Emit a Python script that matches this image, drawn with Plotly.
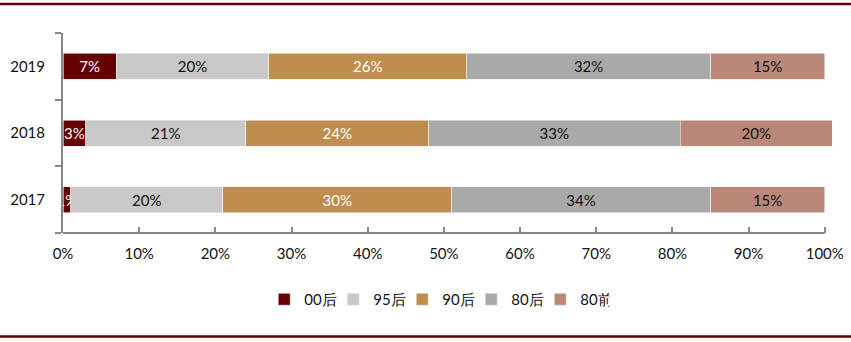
import plotly.graph_objects as go

# Share of each age cohort per year (percent)
years = ["2017", "2018", "2019"]
series_names = ["00后", "95后", "90后", "80后", "80前"]
share_00 = [1, 3, 7]
share_95 = [20, 21, 20]
share_90 = [30, 24, 26]
share_80 = [34, 33, 32]
share_pre80 = [15, 20, 15]
x_ticks = [0, 10, 20, 30, 40, 50, 60, 70, 80, 90, 100]

series_values = [share_00, share_95, share_90, share_80, share_pre80]
colors = ["#650000", "#C8C8C8", "#BF8E4E", "#A9A9A9", "#B98877"]
text_colors = ["#FFFFFF", "#111111", "#FFFFFF", "#111111", "#111111"]

FONT = "Lato, 'Liberation Sans', sans-serif"

fig = go.Figure()
for name, vals, col, tcol in zip(series_names, series_values, colors, text_colors):
    fig.add_trace(go.Bar(
        y=years,
        x=[v / 100 for v in vals],
        name=name,
        orientation="h",
        marker=dict(color=col, line=dict(color="#F2F2F2", width=0.6)),
        text=[f"{v}%" for v in vals],
        textposition="inside",
        insidetextanchor="middle",
        textangle=0,
        textfont=dict(color=tcol, size=15, family=FONT),
        hoverinfo="skip",
    ))

XMAX = 1.0095
fig.update_layout(
    barmode="stack",
    bargap=0.61,
    width=851,
    height=342,
    margin=dict(l=63, r=851 - 63 - 762 * XMAX, t=33, b=109, autoexpand=False),
    paper_bgcolor="white",
    plot_bgcolor="white",
    font=dict(family=FONT, size=15, color="#111111"),
    uniformtext=dict(minsize=15, mode="show"),
    showlegend=True,
    legend=dict(
        orientation="h",
        x=0.486, xanchor="center",
        y=-0.25, yanchor="top",
        font=dict(size=15, family=FONT),
        traceorder="normal",
        itemwidth=30,
        entrywidth=24,
        entrywidthmode="pixels",
    ),
    xaxis=dict(
        range=[0, XMAX],
        tickvals=[t / 100 for t in x_ticks],
        ticktext=[f"{t}%" for t in x_ticks],
        ticks="inside",
        ticklen=6,
        tickcolor="#878787",
        tickwidth=1.5,
        ticklabelstandoff=10,
        showline=False,
        showgrid=False,
        zeroline=False,
        automargin=False,
        tickfont=dict(size=15),
    ),
    yaxis=dict(
        type="category",
        categoryorder="array",
        categoryarray=years,
        range=[-0.5, 2.5],
        tickson="boundaries",
        ticks="outside",
        ticklen=6,
        tickcolor="#878787",
        tickwidth=1.5,
        ticklabelstandoff=13,
        showline=True,
        linecolor="#878787",
        linewidth=2,
        showgrid=False,
        zeroline=False,
        automargin=False,
        tickfont=dict(size=15),
    ),
    shapes=[
        # horizontal axis line spanning 0%–100%
        dict(type="line", xref="x", yref="paper", x0=0, x1=1, y0=0, y1=0,
             line=dict(color="#878787", width=2)),
        # dark red frame lines at top and bottom of the page
        dict(type="line", xref="paper", yref="paper",
             x0=-1, x1=2, y0=1 + 29 / 200, y1=1 + 29 / 200,
             line=dict(color="#650000", width=2.5)),
        dict(type="line", xref="paper", yref="paper",
             x0=-1, x1=2, y0=-103.5 / 200, y1=-103.5 / 200,
             line=dict(color="#650000", width=2.5)),
    ],
)

fig.write_html("out.html")
